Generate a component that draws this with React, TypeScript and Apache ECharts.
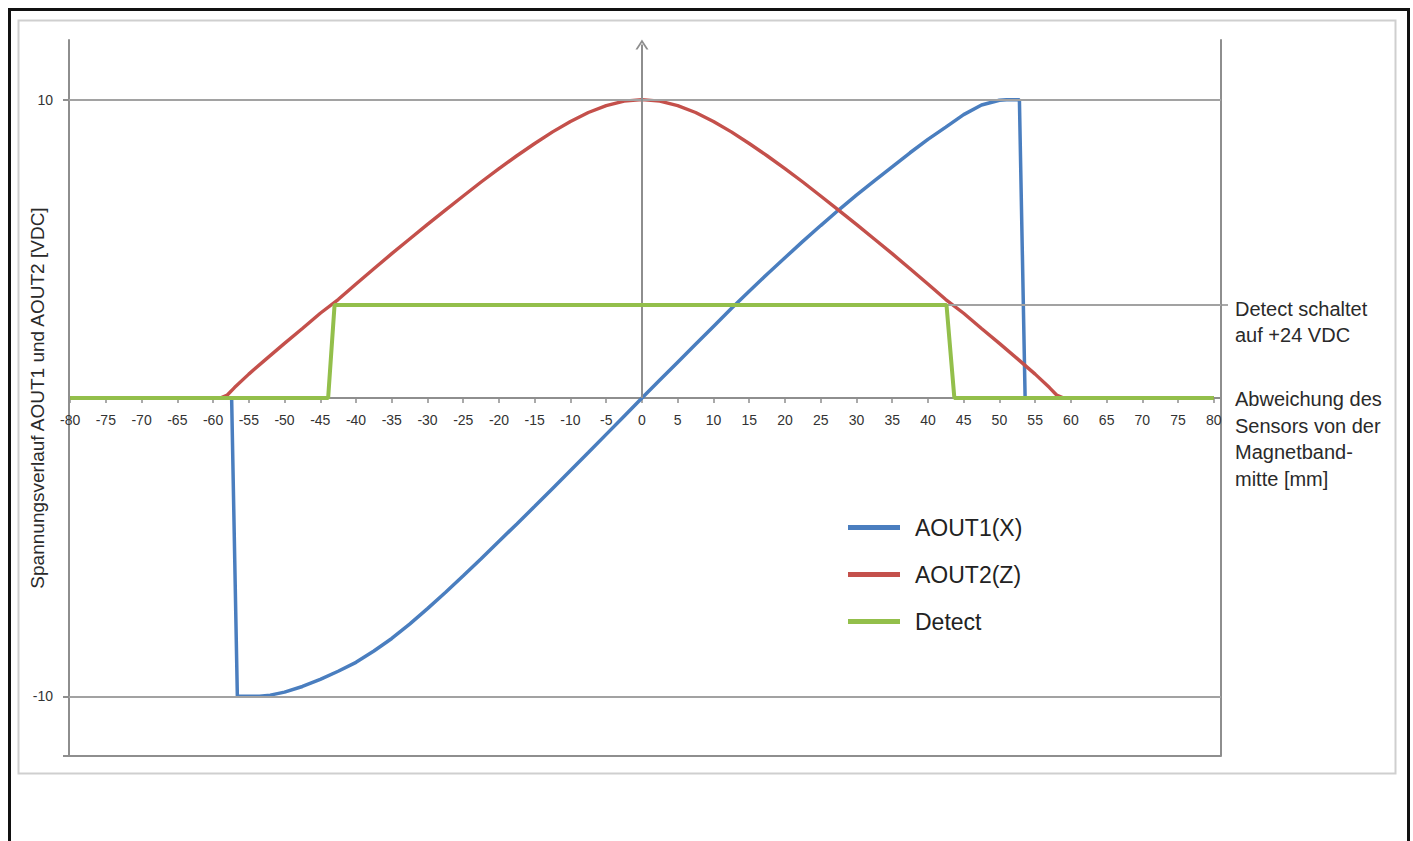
import React, { useEffect, useRef } from "react";
import * as echarts from "echarts";

// ---- Data ----
const X_TICKS = [-80, -75, -70, -65, -60, -55, -50, -45, -40, -35, -30, -25, -20, -15, -10, -5, 0, 5, 10, 15, 20, 25, 30, 35, 40, 45, 50, 55, 60, 65, 70, 75, 80];
const Y_LABELS = [-10, 10];
const Y_TICKS = [-12, -10, 10];
const DETECT_LEVEL = 3.12;

const SERIES_NAMES = ["AOUT1(X)", "AOUT2(Z)", "Detect"];

const aout1X = [-80, -57.4, -56.6, -53.5, -52, -50, -47.5, -45, -42.5, -40, -37.5, -35, -32.5, -30, -27.5, -25, -22.5, -20, -17.5, -15, -12.5, -10, -7.5, -5, -2.5, 0, 2.5, 5, 7.5, 10, 12.5, 15, 17.5, 20, 22.5, 25, 27.5, 30, 32.5, 35, 37.5, 40, 42.5, 45, 47.5, 50, 51, 52.8, 53.6, 80];
const aout1Y = [0, 0, -10, -10, -9.96, -9.86, -9.67, -9.43, -9.16, -8.86, -8.48, -8.06, -7.58, -7.06, -6.52, -5.96, -5.39, -4.8, -4.22, -3.63, -3.03, -2.43, -1.83, -1.22, -0.61, 0, 0.6, 1.2, 1.8, 2.4, 3.0, 3.58, 4.15, 4.7, 5.25, 5.78, 6.3, 6.8, 7.28, 7.75, 8.22, 8.67, 9.08, 9.5, 9.82, 9.98, 10, 10, 0, 0];

const aout2X = [-80, -59, -58, -57, -55, -52.5, -50, -47.5, -45, -42.5, -40, -37.5, -35, -32.5, -30, -27.5, -25, -22.5, -20, -17.5, -15, -12.5, -10, -7.5, -5, -2.5, 0, 2.5, 5, 7.5, 10, 12.5, 15, 17.5, 20, 22.5, 25, 27.5, 30, 32.5, 35, 37.5, 40, 42.5, 45, 47.5, 50, 52.5, 55, 57, 58, 59, 80];
const aout2Y = [0, 0, 0.1, 0.35, 0.8, 1.32, 1.83, 2.33, 2.84, 3.3, 3.82, 4.33, 4.84, 5.33, 5.82, 6.3, 6.77, 7.24, 7.69, 8.12, 8.53, 8.92, 9.27, 9.57, 9.8, 9.95, 10, 9.95, 9.8, 9.57, 9.27, 8.92, 8.53, 8.12, 7.69, 7.24, 6.77, 6.3, 5.82, 5.33, 4.84, 4.33, 3.82, 3.3, 2.84, 2.33, 1.83, 1.32, 0.8, 0.35, 0.1, 0, 0];

const detectX = [-80, -43.9, -43.0, 42.6, 43.7, 80];
const detectY = [0, 0, DETECT_LEVEL, DETECT_LEVEL, 0, 0];

const COLORS = ["#4a7ebf", "#c4504b", "#93bf4b"];

const pairs = (xs: number[], ys: number[]) => xs.map((x, i) => [x, ys[i]]);

const FONT = "'Liberation Sans', Arial, sans-serif";
const AXIS_COLOR = "#8e8e8e";
const GRID_COLOR = "#a2a2a2";

export default function App() {
  const ref = useRef<HTMLDivElement>(null);

  useEffect(() => {
    if (!ref.current) return;
    const chart = echarts.init(ref.current, undefined, { renderer: "svg" });

    const chevron = "path://M0,10 L5,0 L10,10 L8.4,10 L5,3.2 L1.6,10 Z";

    const option: any = {
      animation: false,
      backgroundColor: "#ffffff",
      grid: { left: 69, right: 192, top: 40, bottom: 85, containLabel: false },
      xAxis: {
        type: "value",
        min: -80.15,
        max: 81.0,
        position: "bottom",
        offset: -358,
        axisLine: { show: true, onZero: false, lineStyle: { color: AXIS_COLOR, width: 2 } },
        axisTick: { show: true, length: 5, customValues: X_TICKS, lineStyle: { color: AXIS_COLOR, width: 1.5 } },
        axisLabel: {
          show: true,
          customValues: X_TICKS,
          margin: 15,
          fontSize: 14,
          color: "#333333",
          fontFamily: FONT,
          hideOverlap: false,
        },
        splitLine: { show: false },
      },
      yAxis: [
        {
          type: "value",
          position: "left",
          min: -12,
          max: 12,
          axisLine: { show: true, onZero: false, lineStyle: { color: AXIS_COLOR, width: 2 } },
          axisTick: { show: true, length: 6, customValues: Y_TICKS, lineStyle: { color: AXIS_COLOR, width: 2 } },
          axisLabel: { show: true, customValues: Y_LABELS, margin: 16, fontSize: 14, color: "#333333", fontFamily: FONT },
          splitLine: { show: false },
        },
        {
          type: "value",
          position: "right",
          min: -12,
          max: 12,
          axisLine: { show: true, onZero: false, lineStyle: { color: AXIS_COLOR, width: 2 } },
          axisTick: { show: true, length: 7, customValues: [DETECT_LEVEL], lineStyle: { color: AXIS_COLOR, width: 1.5 } },
          axisLabel: { show: false },
          splitLine: { show: false },
        },
      ],
      legend: {
        data: SERIES_NAMES,
        orient: "vertical",
        left: 848,
        top: 516,
        padding: 0,
        itemWidth: 52,
        itemHeight: 5,
        itemGap: 24,
        icon: "rect",
        textStyle: { fontSize: 23, color: "#222222", fontFamily: FONT, padding: [0, 0, 0, 10] },
      },
      series: [
        {
          name: "__frame",
          type: "line",
          data: [],
          z: 1,
          silent: true,
          markLine: {
            silent: true,
            symbol: ["none", "none"],
            label: { show: false },
            lineStyle: { color: GRID_COLOR, width: 2, type: "solid" },
            emphasis: { disabled: true },
            data: [
              { yAxis: 10 },
              { yAxis: -10 },
              { yAxis: -12, lineStyle: { color: AXIS_COLOR, width: 2, type: "solid" } },
              [
                { coord: [detectX[3], DETECT_LEVEL] },
                { coord: [81.0, DETECT_LEVEL] },
              ],
              [
                { coord: [0, 0], symbol: "none" },
                {
                  coord: [0, 11.85],
                  symbol: chevron,
                  symbolSize: [13, 10],
                  lineStyle: { color: AXIS_COLOR, width: 2, type: "solid" },
                  itemStyle: { color: AXIS_COLOR },
                },
              ],
            ],
          },
        },
        {
          name: SERIES_NAMES[0],
          type: "line",
          data: pairs(aout1X, aout1Y),
          showSymbol: false,
          symbol: "none",
          z: 3,
          color: COLORS[0],
          lineStyle: { color: COLORS[0], width: 3.5 },
        },
        {
          name: SERIES_NAMES[1],
          type: "line",
          data: pairs(aout2X, aout2Y),
          showSymbol: false,
          symbol: "none",
          z: 4,
          color: COLORS[1],
          lineStyle: { color: COLORS[1], width: 3.4 },
        },
        {
          name: SERIES_NAMES[2],
          type: "line",
          data: pairs(detectX, detectY),
          showSymbol: false,
          symbol: "none",
          z: 5,
          color: COLORS[2],
          lineStyle: { color: COLORS[2], width: 4 },
        },
      ],
      graphic: [
        {
          type: "rect",
          silent: true,
          shape: { x: 9.5, y: 9.5, width: 1399, height: 900 },
          style: { fill: "none", stroke: "#111111", lineWidth: 3 },
        },
        {
          type: "rect",
          silent: true,
          shape: { x: 18.5, y: 20.5, width: 1377, height: 753 },
          style: { fill: "none", stroke: "#cfcfcf", lineWidth: 2 },
        },
        {
          type: "text",
          x: 37,
          y: 398,
          rotation: Math.PI / 2,
          style: {
            text: "Spannungsverlauf AOUT1 und AOUT2 [VDC]",
            fontSize: 19,
            fontFamily: FONT,
            fill: "#2a2a2a",
            align: "center",
            verticalAlign: "middle",
          },
        },
        {
          type: "text",
          x: 1235,
          y: 296,
          style: {
            text: "Detect schaltet\nauf +24 VDC",
            fontSize: 20,
            lineHeight: 26,
            fontFamily: FONT,
            fill: "#2a2a2a",
          },
        },
        {
          type: "text",
          x: 1235,
          y: 386,
          style: {
            text: "Abweichung des\nSensors von der\nMagnetband-\nmitte [mm]",
            fontSize: 20,
            lineHeight: 26.5,
            fontFamily: FONT,
            fill: "#2a2a2a",
          },
        },
      ],
    };

    chart.setOption(option);
    return () => chart.dispose();
  }, []);

  return (
    <div
      ref={ref}
      style={{ position: "absolute", left: 0, top: 0, width: 1413, height: 841, background: "#fff" }}
    />
  );
}
